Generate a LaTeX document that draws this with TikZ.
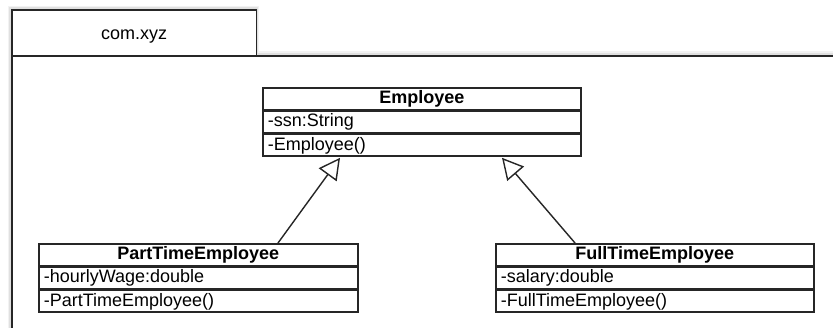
\documentclass[tikz,border=0pt]{standalone}
\usepackage{fontspec}
\setmainfont{Liberation Sans}
\usetikzlibrary{arrows.meta,calc}
\definecolor{edge}{HTML}{262626}
\tikzset{
  pkg/.style={draw=edge, line width=1.6pt, fill=white, inner sep=0pt, anchor=north west},
  title/.style={draw=edge, line width=1.6pt, inner sep=0pt, minimum height=21.67pt,
    text height=13pt, text depth=3pt, font=\fontsize{18}{20}\selectfont\bfseries, anchor=north west},
  row/.style={draw=edge, line width=1.6pt, inner xsep=5pt, inner ysep=0pt, minimum height=21.67pt,
    text height=13pt, text depth=3pt, align=left, font=\fontsize{18}{20}\selectfont, anchor=north west},
  gen/.style={draw=edge, line width=1.4pt, -{Triangle[open, length=21pt, width=22pt, line width=1.4pt]}},
  shade1/.style={draw=black, opacity=0.05, line width=7pt},
  shade2/.style={draw=black, opacity=0.07, line width=4pt}
}
\begin{document}
\begin{tikzpicture}[x=1pt,y=-1pt]
\useasboundingbox (0,0) rectangle (833,328);
\clip (0,0) rectangle (833,328);
\fill[white] (0,0) rectangle (833,328);
% soft shadow of the package
\draw[shade1] (11,360) -- (11,9.5) -- (255.5,9.5) -- (255.5,55) -- (860,55);
\draw[shade2] (11,360) -- (11,9.5) -- (255.5,9.5) -- (255.5,55) -- (860,55);
% package body and tab
\node[pkg, minimum width=850pt, minimum height=300pt] (body) at (11,55) {};
\node[pkg, minimum width=244.5pt, minimum height=45.5pt, text height=13.5pt, text depth=0pt,
  font=\fontsize{18}{20}\selectfont] (tab) at (11,9.5) {com.xyz};
% Employee
\node[title, minimum width=318pt] (et) at (262,87) {Employee};
\node[row, text width=308pt] (ea) at (et.south west) {-ssn:String};
\node[row, text width=308pt] (em) at (ea.south west) {-Employee()};
% PartTimeEmployee
\node[title, minimum width=319pt] (pt) at (38,243) {PartTimeEmployee};
\node[row, text width=309pt] (pa) at (pt.south west) {-hourlyWage:double};
\node[row, text width=309pt] (pm) at (pa.south west) {-PartTimeEmployee()};
% FullTimeEmployee
\node[title, minimum width=318pt] (ft) at (495,243) {FullTimeEmployee};
\node[row, text width=308pt] (fa) at (ft.south west) {-salary:double};
\node[row, text width=308pt] (fm) at (fa.south west) {-FullTimeEmployee()};
% generalizations
\draw[gen] ([xshift=240pt]pt.north west) -- ([xshift=78pt,yshift=-1pt]em.south west);
\draw[gen] ([xshift=80pt]ft.north west) -- ([xshift=240pt,yshift=-1pt]em.south west);
\end{tikzpicture}
\end{document}
